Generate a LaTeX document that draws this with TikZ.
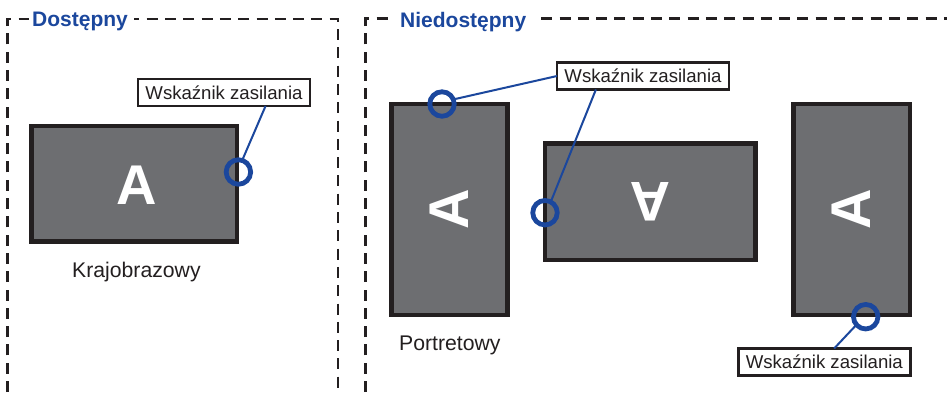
\documentclass[tikz,border=0pt]{standalone}
\usepackage{fontspec}
\setmainfont{Liberation Sans}
\definecolor{bluemark}{HTML}{1B479D}
\definecolor{inkdark}{HTML}{231F20}
\definecolor{screengrey}{HTML}{6D6E71}
\tikzset{
  frameline/.style={draw=inkdark,line width=2.7pt,dash pattern=on 11pt off 7.3pt},
  monitor/.style={draw=inkdark,fill=screengrey,line width=4.5pt,inner sep=0pt,outer sep=0pt,text=white,font=\fontsize{56}{56}\selectfont\bfseries},
  callout/.style={draw=inkdark,fill=white,line width=2.8pt,inner sep=0pt,outer sep=0pt,minimum width=172pt,minimum height=27pt,text=inkdark,font=\fontsize{18.6}{20}\selectfont},
  ring/.style={circle,draw=bluemark,line width=4.8pt,inner sep=0pt,outer sep=0pt,minimum size=24.5pt},
  leader/.style={draw=bluemark,line width=2pt},
  heading/.style={fill=white,inner sep=0pt,text=bluemark,font=\fontsize{21}{23}\selectfont\bfseries},
  caption/.style={inner sep=0pt,text=inkdark,font=\fontsize{21.2}{24}\selectfont},
}
\begin{document}
\begin{tikzpicture}[x=1pt,y=-1pt]
\useasboundingbox (0,0) rectangle (947,392);
\fill[white] (0,0) rectangle (947,392);
\begin{scope}
\clip (0,0) rectangle (947,392);
\draw[frameline] (7.3,392) -- (7.3,19) -- (338,19) -- (338,392);
\draw[frameline] (365.7,392) -- (365.7,18.5) -- (947,18.5);
\end{scope}
\fill[white] (29,5) rectangle (134,34);
\fill[white] (391,5) rectangle (541,34);
\node[heading,anchor=base west] (titleA) at (32,26) {Dostępny};
\node[heading,anchor=base west] (titleB) at (400,27) {Niedostępny};
% monitors
\node[monitor,minimum width=205.5pt,minimum height=115.5pt] (monA) at (134,183.5) {};
\node[text=white,inner sep=0pt,font=\fontsize{56}{56}\selectfont\bfseries] (letterA) at (137,185) {A};
\node[monitor,minimum width=116pt,minimum height=211pt] (monB) at (449.7,209.5) {\rotatebox{90}{A}};
\node[monitor,minimum width=210.5pt,minimum height=116.5pt] (monC) at (650,201.5) {\rotatebox{180}{A}};
\node[monitor,minimum width=116.5pt,minimum height=211pt] (monD) at (851.5,209.5) {\rotatebox{90}{A}};
% rings
\node[ring] (ringA) at (238.4,172) {};
\node[ring] (ringB) at (442,104) {};
\node[ring] (ringC) at (545,212.7) {};
\node[ring] (ringD) at (865.7,316.7) {};
% callouts
\node[callout] (labA) at (224,92.5) {Wskaźnik zasilania};
\node[callout] (labB) at (643,76) {Wskaźnik zasilania};
\node[callout] (labC) at (824.3,362) {Wskaźnik zasilania};
% leaders
\draw[leader] (labA.-18) -- (ringA.72);
\draw[leader] (labB.180) -- (ringB.22);
\draw[leader] (labB.196) -- (ringC.62);
\draw[leader] (labC.54) -- (ringD.221);
% captions
\node[caption,anchor=base west] (capA) at (72,277) {Krajobrazowy};
\node[caption,anchor=base west] (capB) at (399,350) {Portretowy};
\end{tikzpicture}
\end{document}
